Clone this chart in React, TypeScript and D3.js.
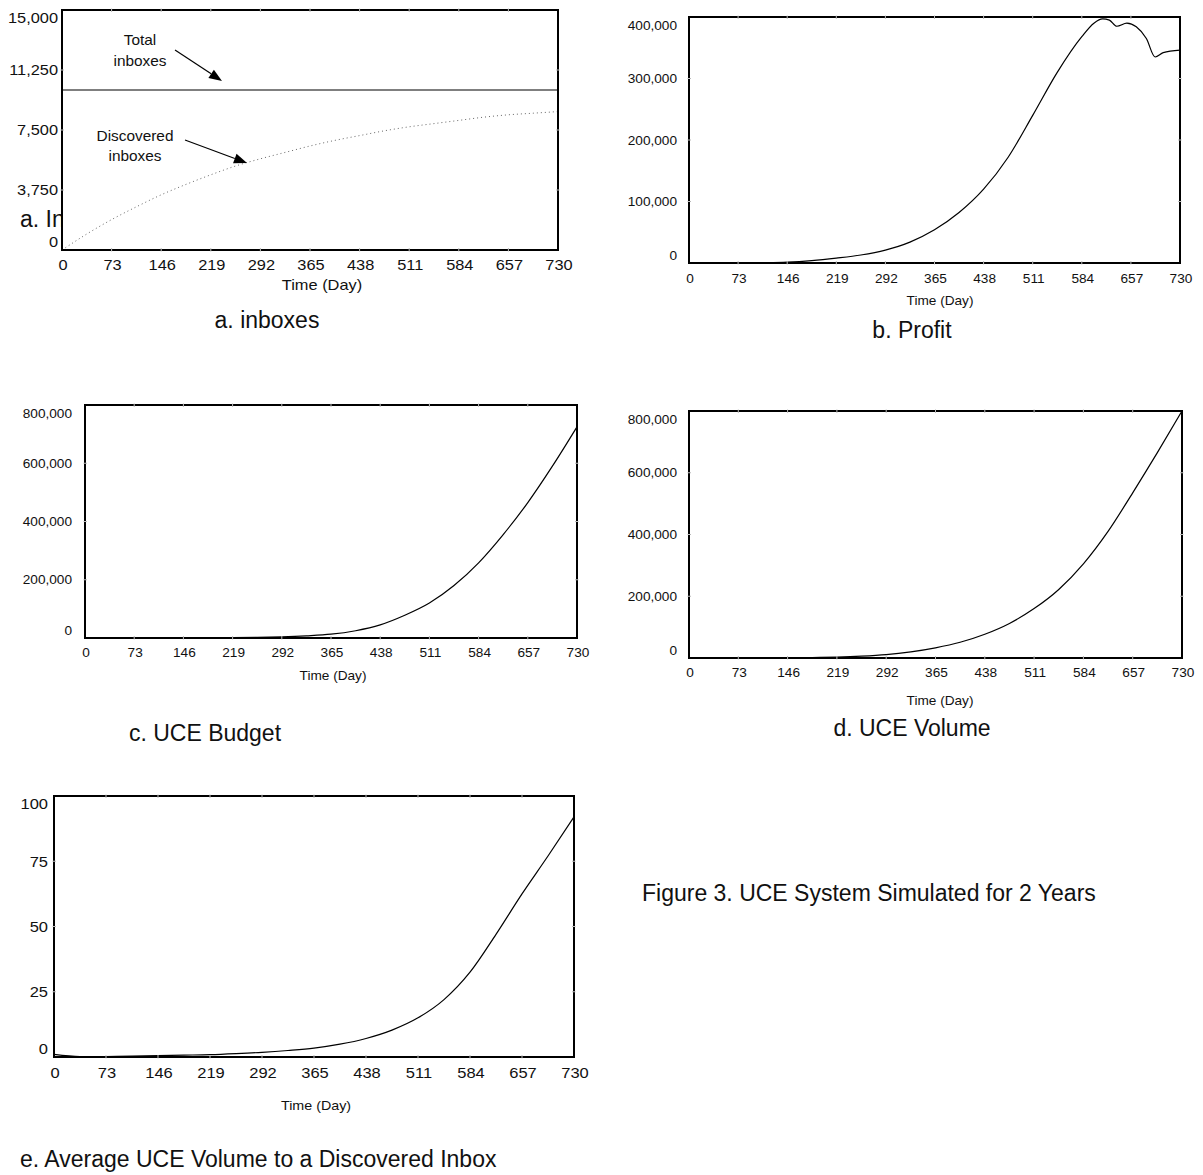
import React from "react";
import * as d3 from "d3";

// x axis ticks shared by every panel (days)
const dayTicks = [0, 73, 146, 219, 292, 365, 438, 511, 584, 657, 730];

// sample times for the simulated series
const days = [0, 36.5, 73, 109.5, 146, 182.5, 219, 255.5, 292, 328.5, 365, 401.5, 438, 474.5, 511, 547.5, 584, 620.5, 657, 693.5, 730];

// a. inboxes
const totalInboxes = [10000, 10000, 10000, 10000, 10000, 10000, 10000, 10000, 10000, 10000, 10000, 10000, 10000, 10000, 10000, 10000, 10000, 10000, 10000, 10000, 10000];
const discoveredInboxes = [0, 1000, 1900, 2700, 3450, 4100, 4700, 5250, 5700, 6100, 6500, 6850, 7150, 7450, 7700, 7900, 8100, 8300, 8450, 8550, 8650];
const inboxTicks = [0, 3750, 7500, 11250, 15000];

// b. Profit (extra points around the peak and the dips)
const profitDays = [0, 36.5, 73, 109.5, 146, 182.5, 219, 255.5, 292, 328.5, 365, 401.5, 438, 474.5, 511, 547.5, 584, 602, 615, 625, 636, 651, 665, 680, 693, 705, 730];
const profit = [0, 0, 200, 600, 1500, 4000, 8000, 13000, 21000, 34000, 54000, 82000, 120000, 172000, 240000, 310000, 368000, 390000, 397000, 395000, 385000, 390000, 384000, 365000, 335000, 342000, 346000];
const profitTicks = [0, 100000, 200000, 300000, 400000];

// c. UCE Budget
const uceBudget = [0, 0, 0, 0, 0, 500, 1000, 2000, 4000, 7500, 13000, 25000, 45000, 78000, 120000, 180000, 258000, 355000, 465000, 590000, 725000];
const budgetTicks = [0, 200000, 400000, 600000, 800000];

// d. UCE Volume
const uceVolume = [0, 0, 0, 0, 500, 1500, 3000, 6000, 11000, 20000, 33000, 51000, 77000, 112000, 160000, 222000, 305000, 410000, 535000, 665000, 800000];
const volumeTicks = [0, 200000, 400000, 600000, 800000];

// e. Average UCE Volume to a Discovered Inbox
const avgVolume = [1, 0.2, 0.2, 0.3, 0.5, 0.7, 0.9, 1.3, 1.8, 2.5, 3.4, 4.9, 7.1, 10.3, 15, 22, 32.5, 47, 62.5, 77, 92];
const avgTicks = [0, 25, 50, 75, 100];

const FONT = "'Liberation Sans', Arial, Helvetica, sans-serif";
const fmt = d3.format(",");

type Series = { x: number[]; y: number[]; dotted?: boolean };

type PanelProps = {
  box: { left: number; top: number; right: number; bottom: number };
  yMax: number;
  yTicks: number[];
  series: Series[];
  tickSize: number;
  stretch: number;
  labelGap: number;
  xLabelY: number;
  titleY: number;
  titleX: number;
  titleSize: number;
  children?: React.ReactNode;
};

// text that can be widened a bit like the scanned figure
function SText({ x, y, size, stretch = 1, anchor = "middle", children }: any) {
  return (
    <text
      transform={`translate(${x},${y}) scale(${stretch},1)`}
      fontSize={size}
      textAnchor={anchor}
      fontFamily={FONT}
      fill="#111"
    >
      {children}
    </text>
  );
}

function Panel(p: PanelProps) {
  const { box } = p;
  const x = d3.scaleLinear().domain([0, 730]).range([box.left, box.right]);
  const y = d3.scaleLinear().domain([0, p.yMax]).range([box.bottom, box.top]);

  return (
    <g>
      <rect x={box.left} y={box.top} width={box.right - box.left} height={box.bottom - box.top} fill="#fff" />
      {p.children}
      {p.series.map((s, i) => {
        const line = d3
          .line<number>()
          .x((_, j) => x(s.x[j]))
          .y((v) => y(v))
          .curve(d3.curveMonotoneX);
        return (
          <path
            key={i}
            d={line(s.y) || ""}
            fill="none"
            stroke={s.dotted ? "#666" : "#000"}
            strokeWidth={s.dotted ? 1 : 1.2}
            strokeDasharray={s.dotted ? "1 3" : undefined}
          />
        );
      })}
      <rect
        x={box.left}
        y={box.top}
        width={box.right - box.left}
        height={box.bottom - box.top}
        fill="none"
        stroke="#000"
        strokeWidth={2}
      />
      {/* little notches on the frame at each tick */}
      {dayTicks.slice(1, -1).map((t) => (
        <g key={"xt" + t}>
          <line x1={x(t)} x2={x(t)} y1={box.top - 1.5} y2={box.top + 2} stroke="#bbb" />
          <line x1={x(t)} x2={x(t)} y1={box.bottom - 2} y2={box.bottom + 1.5} stroke="#bbb" />
        </g>
      ))}
      {p.yTicks.slice(1, -1).map((t) => (
        <g key={"yt" + t}>
          <line x1={box.left - 1.5} x2={box.left + 2} y1={y(t)} y2={y(t)} stroke="#bbb" />
          <line x1={box.right - 2} x2={box.right + 1.5} y1={y(t)} y2={y(t)} stroke="#bbb" />
        </g>
      ))}
      {p.yTicks.map((t) => {
        const cy = Math.min(Math.max(y(t), box.top + 8), box.bottom - 8);
        return (
          <SText key={"yl" + t} x={box.left - p.labelGap} y={cy + p.tickSize * 0.36} size={p.tickSize} stretch={p.stretch} anchor="end">
            {fmt(t)}
          </SText>
        );
      })}
      {dayTicks.map((t) => (
        <SText key={"xl" + t} x={x(t) + 1} y={p.xLabelY} size={p.tickSize} stretch={p.stretch}>
          {t}
        </SText>
      ))}
      <SText x={p.titleX} y={p.titleY} size={p.titleSize} stretch={p.stretch}>
        Time (Day)
      </SText>
    </g>
  );
}

function Arrow({ x1, y1, x2, y2 }: { x1: number; y1: number; x2: number; y2: number }) {
  const a = Math.atan2(y2 - y1, x2 - x1);
  const len = 13;
  const w = 5;
  const bx = x2 - len * Math.cos(a);
  const by = y2 - len * Math.sin(a);
  const pts = [
    [x2, y2],
    [bx + w * Math.sin(a), by - w * Math.cos(a)],
    [bx - w * Math.sin(a), by + w * Math.cos(a)],
  ];
  return (
    <g>
      <line x1={x1} y1={y1} x2={bx} y2={by} stroke="#000" strokeWidth={1.2} />
      <polygon points={pts.map((q) => q.join(",")).join(" ")} fill="#000" />
    </g>
  );
}

export default function App() {
  const bigTitle = { fontSize: 23, fontFamily: FONT, fill: "#111" };
  return (
    <svg width={1203} height={1175} style={{ position: "absolute", left: 0, top: 0, background: "#fff" }}>
      <rect width={1203} height={1175} fill="#fff" />

      {/* leftover title hidden behind panel a */}
      <text x={20} y={227} {...bigTitle}>a. Inboxes</text>

      <Panel
        box={{ left: 62, top: 10, right: 558, bottom: 250 }}
        yMax={15000}
        yTicks={inboxTicks}
        series={[
          { x: days, y: totalInboxes },
          { x: days, y: discoveredInboxes, dotted: true },
        ]}
        tickSize={14}
        stretch={1.17}
        labelGap={4}
        xLabelY={270}
        titleX={322}
        titleY={290}
        titleSize={14}
      />
      <SText x={140} y={45} size={14} stretch={1.1}>Total</SText>
      <SText x={140} y={66} size={14} stretch={1.1}>inboxes</SText>
      <Arrow x1={175} y1={50} x2={222} y2={81} />
      <SText x={135} y={141} size={14} stretch={1.1}>Discovered</SText>
      <SText x={135} y={161} size={14} stretch={1.1}>inboxes</SText>
      <Arrow x1={185} y1={140} x2={247} y2={163} />
      <text x={267} y={328} textAnchor="middle" {...bigTitle}>a. inboxes</text>

      <Panel
        box={{ left: 689, top: 17, right: 1180, bottom: 263 }}
        yMax={400000}
        yTicks={profitTicks}
        series={[{ x: profitDays, y: profit }]}
        tickSize={13}
        stretch={1.05}
        labelGap={12}
        xLabelY={283}
        titleX={940}
        titleY={305}
        titleSize={13}
      />
      <text x={912} y={338} textAnchor="middle" {...bigTitle}>b. Profit</text>

      <Panel
        box={{ left: 85, top: 405, right: 577, bottom: 638 }}
        yMax={800000}
        yTicks={budgetTicks}
        series={[{ x: days, y: uceBudget }]}
        tickSize={13}
        stretch={1.05}
        labelGap={13}
        xLabelY={657}
        titleX={333}
        titleY={680}
        titleSize={13}
      />
      <text x={205} y={741} textAnchor="middle" {...bigTitle}>c. UCE Budget</text>

      <Panel
        box={{ left: 689, top: 411, right: 1182, bottom: 658 }}
        yMax={800000}
        yTicks={volumeTicks}
        series={[{ x: days, y: uceVolume }]}
        tickSize={13}
        stretch={1.05}
        labelGap={12}
        xLabelY={677}
        titleX={940}
        titleY={705}
        titleSize={13}
      />
      <text x={912} y={736} textAnchor="middle" {...bigTitle}>d. UCE Volume</text>

      <Panel
        box={{ left: 54, top: 796, right: 574, bottom: 1057 }}
        yMax={100}
        yTicks={avgTicks}
        series={[{ x: days, y: avgVolume }]}
        tickSize={15}
        stretch={1.1}
        labelGap={6}
        xLabelY={1078}
        titleX={316}
        titleY={1110}
        titleSize={13}
      />
      <text x={20} y={1167} {...bigTitle}>e. Average UCE Volume to a Discovered Inbox</text>

      <text x={642} y={901} {...bigTitle}>Figure 3. UCE System Simulated for 2 Years</text>
    </svg>
  );
}
